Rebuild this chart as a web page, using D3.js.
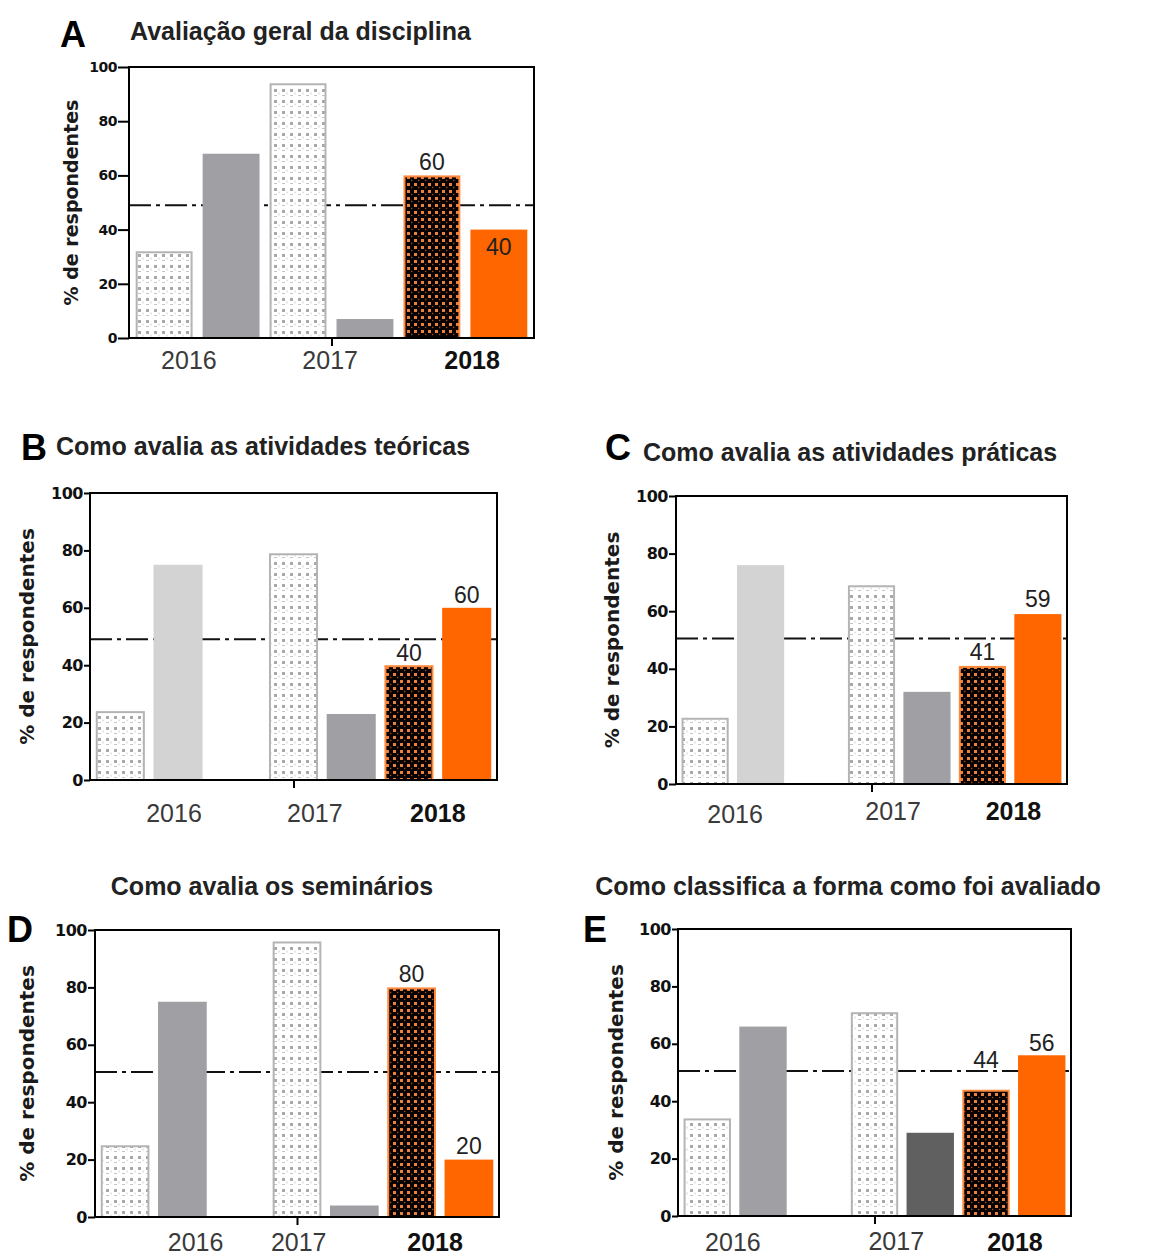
<!DOCTYPE html>
<html>
<head>
<meta charset="utf-8">
<script src="https://cdn.jsdelivr.net/npm/d3@7"></script>
<style>
body { margin: 0; background: white; }
svg text { font-family: "Liberation Sans", Arial, sans-serif; }
</style>
</head>
<body>
<svg id="chart"></svg>
<script>
var years = ["2016", "2017", "2018"];
var yTicks = [0, 20, 40, 60, 80, 100];

// bar slots; B-E leave one empty slot between 2016 and 2017
var slotsA = ["a1", "a2", "a3", "a4", "a5", "a6"];
var slotsBE = ["b1", "b2", "gap", "b3", "b4", "b5", "b6"];

var valuesA = [32, 68, 94, 7, 60, 40];
var valuesB = [24, 75, null, 79, 23, 40, 60];
var valuesC = [23, 76, null, 69, 32, 41, 59];
var valuesD = [25, 75, null, 96, 4, 80, 20];
var valuesE = [34, 66, null, 71, 29, 44, 56];

var kindsA = ["dots", "grey", "dots", "grey", "black", "orange"];
var kindsB = ["dots", "light", "none", "dots", "grey", "black", "orange"];
var kindsC = ["dots", "light", "none", "dots", "grey", "black", "orange"];
var kindsD = ["dots", "grey", "none", "dots", "grey", "black", "orange"];
var kindsE = ["dots", "grey", "none", "dots", "dark", "black", "orange"];

var titles = ["Avaliação geral da disciplina",
              "Como avalia as atividades teóricas",
              "Como avalia as atividades práticas",
              "Como avalia os seminários",
              "Como classifica a forma como foi avaliado"];
var letters = ["A", "B", "C", "D", "E"];
var refValues = [49, 49, 50.5, 50.5, 50.5];

var fills = {dots: "url(#dots)", grey: "#a0a0a4", light: "#d3d3d3", dark: "#606060",
             black: "url(#blackdots)", orange: "#ff6600"};
var strokes = {dots: "#b4b4b4", black: "#ff8a3d"};

var panels = [
    {values: valuesA, kinds: kindsA, slots: slotsA,
     box: {left: 129, top: 67, right: 534, bottom: 338},
     titleX: 130, titleY: 40, anchor: "start", letterX: 60, letterY: 47,
     yLabelX: 78, yLabelSize: 19, tickFont: 14, tickSize: 11, xTickAt: 2.5,
     yearAt: [0.37, 2.48, 4.6], yearDy: [31, 31, 31], labelDy: [-5, 25]},
    {values: valuesB, kinds: kindsB, slots: slotsBE,
     box: {left: 90, top: 493, right: 497, bottom: 780},
     titleX: 56, titleY: 455, anchor: "start", letterX: 21, letterY: 460,
     yLabelX: 34, yLabelSize: 20, tickFont: 16, tickSize: 6, xTickAt: 3,
     yearAt: [0.93, 3.37, 5.5], yearDy: [42, 42, 42], labelDy: [-4, -4.5]},
    {values: valuesC, kinds: kindsC, slots: slotsBE,
     box: {left: 676, top: 496, right: 1067, bottom: 784},
     titleX: 643, titleY: 461, anchor: "start", letterX: 605, letterY: 460,
     yLabelX: 619, yLabelSize: 20, tickFont: 16, tickSize: 7, xTickAt: 3,
     yearAt: [0.54, 3.39, 5.56], yearDy: [39, 36, 36], labelDy: [-6, -7]},
    {values: valuesD, kinds: kindsD, slots: slotsBE,
     box: {left: 95, top: 930, right: 499, bottom: 1217},
     titleX: 272, titleY: 895, anchor: "middle", letterX: 7, letterY: 942,
     yLabelX: 34, yLabelSize: 20, tickFont: 16, tickSize: 7, xTickAt: 3,
     yearAt: [1.23, 3.03, 5.41], yearDy: [34, 34, 34], labelDy: [-5.5, -6]},
    {values: valuesE, kinds: kindsE, slots: slotsBE,
     box: {left: 678, top: 929, right: 1071, bottom: 1216},
     titleX: 848, titleY: 895, anchor: "middle", letterX: 583, letterY: 942,
     yLabelX: 623, yLabelSize: 20, tickFont: 16, tickSize: 6, xTickAt: 3,
     yearAt: [0.46, 3.39, 5.52], yearDy: [35, 34, 35], labelDy: [-21.5, -4.7]}
];

var svg = d3.select("#chart")
    .attr("width", 1158)
    .attr("height", 1257)

var defs = svg.append("defs")

// white bar with grey dot texture
var dots = defs.append("pattern")
    .attr("id", "dots")
    .attr("patternUnits", "userSpaceOnUse")
    .attr("width", 8)
    .attr("height", 11)
dots.append("rect").attr("width", 8).attr("height", 11).attr("fill", "white")
dots.append("rect").attr("x", 2).attr("y", 1).attr("width", 3).attr("height", 3).attr("fill", "#a8a8a8")
dots.append("rect").attr("x", 2).attr("y", 7).attr("width", 3).attr("height", 1).attr("fill", "#c4c4c4")
dots.append("rect").attr("x", 6.5).attr("y", 4.5).attr("width", 1).attr("height", 2).attr("fill", "#cfcfcf")

// black bar with orange dot texture
var blackdots = defs.append("pattern")
    .attr("id", "blackdots")
    .attr("patternUnits", "userSpaceOnUse")
    .attr("width", 7)
    .attr("height", 7)
blackdots.append("rect").attr("width", 7).attr("height", 7).attr("fill", "#080202")
blackdots.append("rect").attr("x", 1).attr("y", 1).attr("width", 3).attr("height", 3).attr("fill", "#e8823e")
blackdots.append("rect").attr("x", 5).attr("y", 4.8).attr("width", 1.3).attr("height", 1.3).attr("fill", "#a8521e")

var drawPanel = function(p, k)
{
    var g = svg.append("g")

    var x = d3.scaleBand()
        .domain(p.slots)
        .range([p.box.left, p.box.right])
        .paddingInner(0.15)
        .paddingOuter(0.1)

    var y = d3.scaleLinear()
        .domain([0, 100])
        .range([p.box.bottom, p.box.top])

    // slot index -> bar centre, used for the year labels and the x tick
    var pos = d3.scaleLinear()
        .domain([0, p.slots.length - 1])
        .range([x(p.slots[0]) + x.bandwidth() / 2,
                x(p.slots[p.slots.length - 1]) + x.bandwidth() / 2])

    // 50% reference line, behind the bars
    g.append("line")
        .attr("x1", p.box.left)
        .attr("x2", p.box.right)
        .attr("y1", y(refValues[k]))
        .attr("y2", y(refValues[k]))
        .attr("stroke", "#111")
        .attr("stroke-width", 2)
        .attr("stroke-dasharray", "22,5,4,5")

    var bars = p.values.map(function(v, i)
        {
            return {slot: p.slots[i], value: v, kind: p.kinds[i], i: i}
        })
        .filter(function(d) { return d.value != null })

    g.selectAll("rect.bar")
        .data(bars)
        .enter()
        .append("rect")
        .attr("class", "bar")
        .attr("x", function(d) { return x(d.slot) + (strokes[d.kind] ? 1 : 0) })
        .attr("y", function(d) { return y(d.value) + (strokes[d.kind] ? 1 : 0) })
        .attr("width", function(d) { return x.bandwidth() - (strokes[d.kind] ? 2 : 0) })
        .attr("height", function(d) { return y(0) - y(d.value) - (strokes[d.kind] ? 1 : 0) })
        .attr("fill", function(d) { return fills[d.kind] })
        .attr("stroke", function(d) { return strokes[d.kind] || "none" })
        .attr("stroke-width", 2)

    // values printed over the two 2018 bars
    var labelled = bars.slice(bars.length - 2)
    g.selectAll("text.value")
        .data(labelled)
        .enter()
        .append("text")
        .attr("class", "value")
        .attr("x", function(d) { return x(d.slot) + x.bandwidth() / 2 })
        .attr("y", function(d, j) { return y(d.value) + p.labelDy[j] })
        .attr("text-anchor", "middle")
        .style("font-size", "23px")
        .style("fill", "#222")
        .text(function(d) { return d.value })

    // frame
    g.append("rect")
        .attr("x", p.box.left)
        .attr("y", p.box.top)
        .attr("width", p.box.right - p.box.left)
        .attr("height", p.box.bottom - p.box.top)
        .attr("fill", "none")
        .attr("stroke", "#000")
        .attr("stroke-width", 2)

    var yAxis = g.append("g")
        .attr("transform", "translate(" + p.box.left + ",0)")
        .call(d3.axisLeft(y).tickValues(yTicks).tickSize(p.tickSize).tickPadding(1))
    yAxis.select(".domain").remove()
    yAxis.selectAll("line").attr("stroke", "#000").attr("stroke-width", 2)
    yAxis.selectAll("text")
        .style("font-family", "'DejaVu Sans', sans-serif")
        .style("font-weight", "bold")
        .style("font-size", p.tickFont + "px")
        .style("letter-spacing", "-0.5px")
        .attr("fill", "#111")

    var xAxis = g.append("g")
        .attr("transform", "translate(0," + p.box.bottom + ")")
        .call(d3.axisBottom(pos).tickValues([p.xTickAt]).tickSize(8).tickFormat(""))
    xAxis.select(".domain").remove()
    xAxis.selectAll("line").attr("stroke", "#000").attr("stroke-width", 2)

    g.selectAll("text.year")
        .data(years)
        .enter()
        .append("text")
        .attr("class", "year")
        .attr("x", function(d, i) { return pos(p.yearAt[i]) })
        .attr("y", function(d, i) { return p.box.bottom + p.yearDy[i] })
        .attr("text-anchor", "middle")
        .style("font-size", "25px")
        .style("font-weight", function(d, i) { return i == 2 ? "bold" : "normal" })
        .style("fill", function(d, i) { return i == 2 ? "#111" : "#3a3a3a" })
        .text(function(d) { return d })

    g.append("text")
        .attr("transform", "translate(" + p.yLabelX + "," + ((p.box.top + p.box.bottom) / 2) + ") rotate(-90)")
        .attr("text-anchor", "middle")
        .style("font-family", "'DejaVu Sans', sans-serif")
        .style("font-weight", "bold")
        .style("font-size", p.yLabelSize + "px")
        .style("fill", "#1a1a1a")
        .text("% de respondentes")

    g.append("text")
        .attr("x", p.titleX)
        .attr("y", p.titleY)
        .attr("text-anchor", p.anchor)
        .style("font-size", "25px")
        .style("font-weight", "bold")
        .style("fill", "#222")
        .text(titles[k])

    g.append("text")
        .attr("x", p.letterX)
        .attr("y", p.letterY)
        .style("font-size", "36px")
        .style("font-weight", "bold")
        .style("fill", "#000")
        .text(letters[k])
}

panels.forEach(drawPanel)
</script>
</body>
</html>
